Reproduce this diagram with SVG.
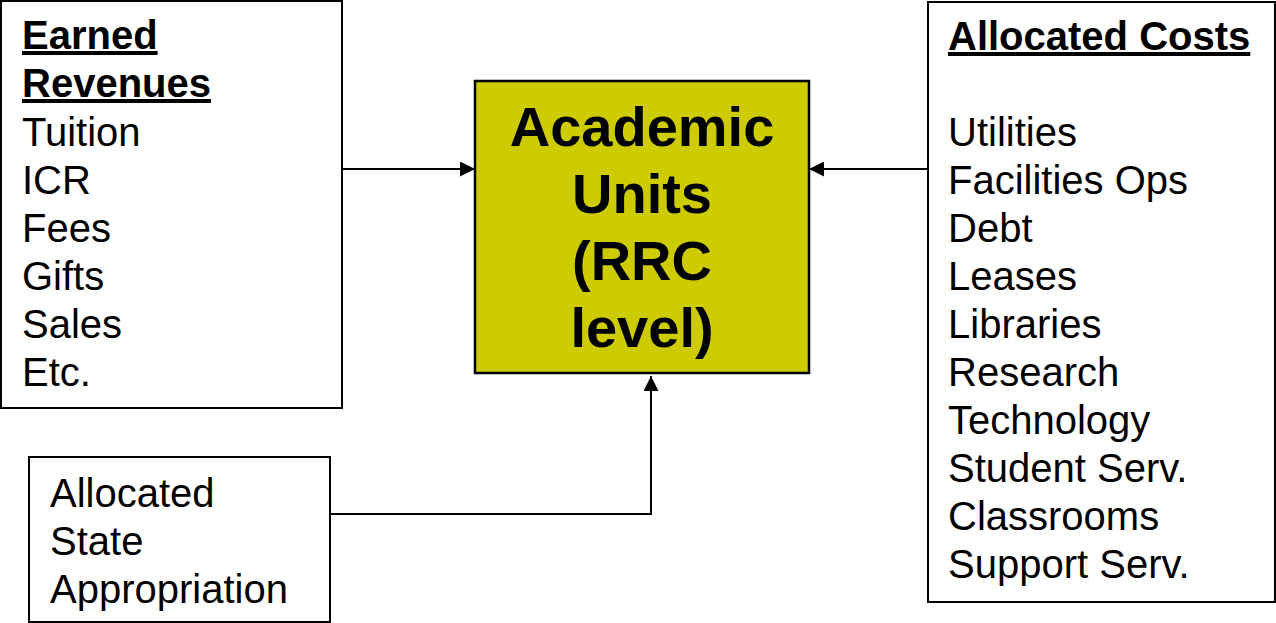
<svg xmlns="http://www.w3.org/2000/svg" width="1276" height="623" viewBox="0 0 1276 623">
<style>
.box{fill:#fff;stroke:#000;stroke-width:2}
.core{fill:#CCCC00;stroke:#000;stroke-width:2.5}
.t{font-family:"Liberation Sans",Arial,sans-serif;font-size:40px;fill:#000}
.b{font-weight:bold}
.u{text-decoration:underline}
.c{font-family:"Liberation Sans",Arial,sans-serif;font-size:56px;font-weight:bold;fill:#000;text-anchor:middle}
.conn{fill:none;stroke:#000;stroke-width:2}
</style>
<defs>
<marker id="ah" viewBox="0 0 10 10" refX="10" refY="5" markerWidth="15" markerHeight="15" markerUnits="userSpaceOnUse" orient="auto">
<path d="M0,0 L10,5 L0,10 Z" fill="#000"/>
</marker>
</defs>
<g id="connectors">
<path class="conn" d="M342,169 H475" marker-end="url(#ah)"/>
<path class="conn" d="M928,169 H809" marker-end="url(#ah)"/>
<path class="conn" d="M330,514 H651 V376" marker-end="url(#ah)"/>
</g>
<g id="earned">
<rect class="box" x="1" y="1" width="341" height="407"/>
<text class="t b u" x="22" y="49">Earned</text>
<text class="t b u" x="22" y="97">Revenues</text>
<text class="t" x="22" y="146">Tuition</text>
<text class="t" x="22" y="194">ICR</text>
<text class="t" x="22" y="242">Fees</text>
<text class="t" x="22" y="290">Gifts</text>
<text class="t" x="22" y="338">Sales</text>
<text class="t" x="22" y="386">Etc.</text>
</g>
<g id="academic">
<rect class="core" x="475" y="81" width="334" height="292"/>
<text class="c" x="642" y="146">Academic</text>
<text class="c" x="642" y="213">Units</text>
<text class="c" x="642" y="280">(RRC</text>
<text class="c" x="642" y="347">level)</text>
</g>
<g id="costs">
<rect class="box" x="928" y="2" width="347" height="600"/>
<text class="t b u" x="948" y="50">Allocated Costs</text>
<text class="t" x="948" y="146">Utilities</text>
<text class="t" x="948" y="194">Facilities Ops</text>
<text class="t" x="948" y="242">Debt</text>
<text class="t" x="948" y="290">Leases</text>
<text class="t" x="948" y="338">Libraries</text>
<text class="t" x="948" y="386">Research</text>
<text class="t" x="948" y="434">Technology</text>
<text class="t" x="948" y="482">Student Serv.</text>
<text class="t" x="948" y="530">Classrooms</text>
<text class="t" x="948" y="578">Support Serv.</text>
</g>
<g id="state">
<rect class="box" x="29" y="457" width="301" height="165"/>
<text class="t" x="50" y="507">Allocated</text>
<text class="t" x="50" y="555">State</text>
<text class="t" x="50" y="603">Appropriation</text>
</g>
</svg>
